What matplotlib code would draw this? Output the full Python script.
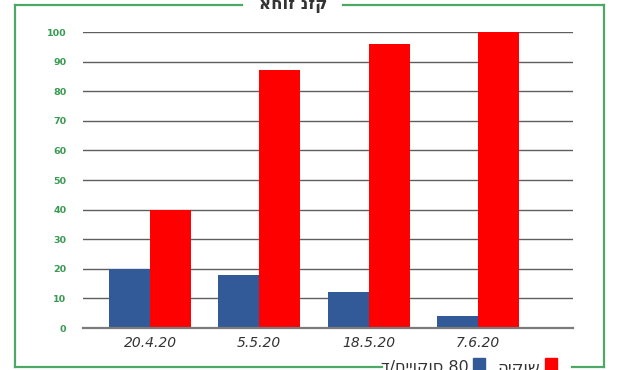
import matplotlib
matplotlib.use('Agg')
import matplotlib.pyplot as plt
from matplotlib.lines import Line2D
from matplotlib.patches import Rectangle

# data
dates = ['20.4.20', '5.5.20', '18.5.20', '7.6.20']
traps = [20, 18, 12, 4]        # blue
spray = [40, 87, 96, 100]      # red
y_ticks = [0, 10, 20, 30, 40, 50, 60, 70, 80, 90, 100]

# texts written in the glyph order that the picture shows
title_txt = 'אחוז נזק'
lab_spray = 'היקוש'
lab_traps = 'ד/םייוקוס 80'

BLUE = '#335A98'
RED = '#FF0000'
GREEN = '#4CA864'
TICKGREEN = '#3A9A52'
GRID = '#5E5E5E'

W, H = 632, 370
fig = plt.figure(figsize=(W / 100, H / 100), dpi=100)

def px(x0, y0, x1, y1):
    # pixel box (top-left origin) -> figure fraction rect
    return [x0 / W, 1 - y1 / H, (x1 - x0) / W, (y1 - y0) / H]

ax = fig.add_axes(px(83, 32, 573, 328))

x = list(range(len(dates)))
w = 0.375
ax.bar([i - w / 2 for i in x], traps, width=w, color=BLUE, zorder=3)
ax.bar([i + w / 2 for i in x], spray, width=w, color=RED, zorder=3)

ax.set_xlim(-0.613, 3.87)
ax.set_ylim(0, 100)
ax.set_yticks(y_ticks)
ax.set_xticks(x)
ax.set_xticklabels(dates, fontsize=10, style='italic', color='#333333')
for t in ax.get_yticklabels():
    t.set_color(TICKGREEN)
    t.set_fontsize(6.8)
    t.set_fontweight('bold')
ax.tick_params(axis='both', length=0)
ax.tick_params(axis='y', pad=12)
ax.tick_params(axis='x', pad=6)
ax.grid(axis='y', color=GRID, linewidth=1, zorder=0)
ax.axhline(0, color='#7A7A7A', linewidth=1.6, zorder=4, clip_on=False)
for s in ax.spines.values():
    s.set_visible(False)

# green frame broken by the title and the legend
def hline(x0, x1, y):
    fig.add_artist(Line2D([x0 / W, x1 / W], [1 - y / H, 1 - y / H],
                          color=GREEN, lw=1.6))

def vline(x, y0, y1):
    fig.add_artist(Line2D([x / W, x / W], [1 - y0 / H, 1 - y1 / H],
                          color=GREEN, lw=1.6))

hline(15, 242, 5)
hline(343, 604, 5)
hline(15, 382, 367)
hline(572, 604, 367)
vline(15, 5, 367)
vline(604, 5, 367)

fig.text(293 / W, 1 - 4 / H, title_txt, ha='center', va='center',
         fontsize=12, fontweight='bold', color='#333333')

# legend (cut off at the bottom edge like the original)
fig.add_artist(Rectangle((545 / W, 1 - 371 / H), 12 / W, 13 / H,
                         transform=fig.transFigure, color=RED))
fig.text(540 / W, 1 - 367 / H, lab_spray, ha='right', va='center',
         fontsize=12, color='#333333')
fig.add_artist(Rectangle((473 / W, 1 - 371 / H), 12 / W, 13 / H,
                         transform=fig.transFigure, color=BLUE))
fig.text(469 / W, 1 - 367 / H, lab_traps, ha='right',
         va='center', fontsize=11.5, color='#333333')

fig.savefig('out.png', dpi=100)
